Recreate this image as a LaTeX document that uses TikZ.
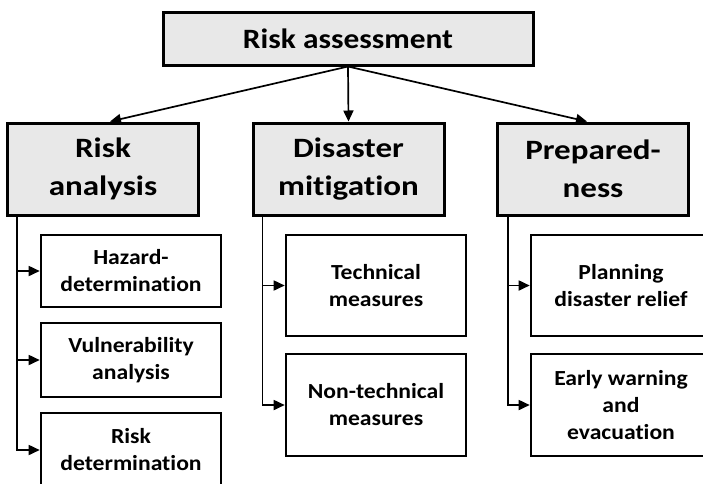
\documentclass[tikz,border=0pt]{standalone}
\usepackage{fontspec}
\setmainfont{Carlito}[Ligatures=NoCommon]
\usetikzlibrary{arrows.meta}

\begin{document}
\begin{tikzpicture}[
        x=1pt, y=-1pt,
        every node/.style={align=center, font=\bfseries},
        arrow/.style={-{Triangle[length=11pt,width=10pt]}, line width=1.7pt},
        topbox/.style={rectangle, draw=black, line width=3pt, fill=black!9, minimum width=370pt, minimum height=53pt, font=\fontsize{28}{34}\selectfont\bfseries\addfontfeatures{FakeStretch=1.12}},
        headbox/.style={rectangle, draw=black, line width=3pt, fill=black!9, minimum width=191pt, minimum height=92pt, font=\fontsize{28}{38}\selectfont\bfseries\addfontfeatures{FakeStretch=1.18}},
        itembox/.style={rectangle, draw=black, line width=2.6pt, fill=white, minimum width=180pt, font=\fontsize{21.5}{27}\selectfont\bfseries\addfontfeatures{FakeStretch=1.1}}
    ]
        \useasboundingbox (0,0) rectangle (703,483);
        \clip (0,0) rectangle (703,483);

        % Top
        \node[topbox] (assess) at (348, 38.5) {Risk assessment};

        % Middle row
        \node[headbox] (analysis) at (103, 169) {Risk\\analysis};
        \node[headbox] (mitig) at (348.5, 169) {Disaster\\mitigation};
        \node[headbox] (prep) at (593, 169) {Prepared-\\ness};

        % Left column
        \node[itembox, minimum height=72pt] (hazard) at (131, 271) {Hazard-\\determination};
        \node[itembox, minimum height=74pt] (vuln) at (131, 360) {Vulnerability\\analysis};
        \node[itembox, minimum height=74pt] (riskdet) at (131, 450) {Risk\\determination};

        % Middle column
        \node[itembox, minimum height=101pt] (tech) at (376, 285.5) {Technical\\measures};
        \node[itembox, minimum height=102pt] (nontech) at (376, 405) {Non-technical\\measures};

        % Right column
        \node[itembox, minimum height=101pt] (relief) at (621, 285.5) {Planning\\disaster relief};
        \node[itembox, minimum height=102pt] (warning) at (621, 405) {Early warning\\and\\evacuation};

        % Top arrows
        \draw[arrow] (assess.south) -- ([xshift=7pt]analysis.north);
        \draw[arrow] (assess.south) -- (mitig.north);
        \draw[arrow] (assess.south) -- ([xshift=-6pt]prep.north);

        % Column arrows
        \draw[arrow] ([xshift=11pt]analysis.south west) |- (hazard.west);
        \draw[arrow] ([xshift=11pt]analysis.south west) |- (vuln.west);
        \draw[arrow] ([xshift=11pt]analysis.south west) |- (riskdet.west);

        \draw[arrow] ([xshift=11pt]mitig.south west) |- (tech.west);
        \draw[arrow] ([xshift=11pt]mitig.south west) |- (nontech.west);

        \draw[arrow] ([xshift=12pt]prep.south west) |- (relief.west);
        \draw[arrow] ([xshift=12pt]prep.south west) |- (warning.west);
    \end{tikzpicture}
\end{document}
